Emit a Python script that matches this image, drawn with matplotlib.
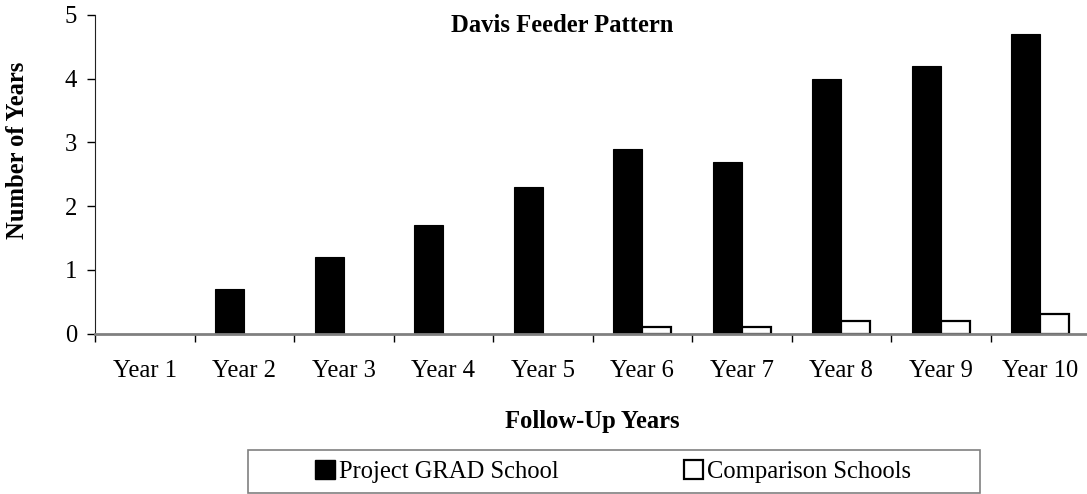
import matplotlib
matplotlib.use("Agg")
import matplotlib.pyplot as plt
import numpy as np
from matplotlib.patches import Rectangle, Patch

categories = ["Year 1", "Year 2", "Year 3", "Year 4", "Year 5",
              "Year 6", "Year 7", "Year 8", "Year 9", "Year 10"]
grad_values = [0.0, 0.7, 1.2, 1.7, 2.3, 2.9, 2.7, 4.0, 4.2, 4.7]
comparison_values = [0.0, 0.0, 0.0, 0.0, 0.0, 0.1, 0.1, 0.2, 0.2, 0.3]
series_names = ["Project GRAD School", "Comparison Schools"]
title = "Davis Feeder Pattern"
xlabel = "Follow-Up Years"
ylabel = "Number of Years"

plt.rcParams['font.family'] = ['Liberation Serif', 'DejaVu Serif']
FS = 17.7

W, H = 1087, 494
fig = plt.figure(figsize=(W / 100, H / 100), dpi=100)
ax = fig.add_axes([95 / W, (H - 333.5) / H, 995 / W, 318.5 / H])

x = np.arange(len(categories))
bw = 0.29
lw_grad = [0.8 if v > 0 else 0 for v in grad_values]
lw_comp = [1.6 if v > 0 else 0 for v in comparison_values]
ax.bar(x - bw / 2, grad_values, bw, color="black", edgecolor="black", linewidth=lw_grad, zorder=2)
ax.bar(x + bw / 2, comparison_values, bw, color="white", edgecolor="black", linewidth=lw_comp, zorder=2)

ax.set_xlim(-0.5, len(categories) - 0.5)
ax.set_ylim(0, 5)
ax.set_yticks(range(0, 6))
ax.tick_params(axis="y", direction="out", length=5.8, width=1, labelsize=FS, pad=7, color="black")
ax.set_xticks(x)
ax.set_xticklabels(categories)
ax.tick_params(axis="x", which="major", length=0, labelsize=FS, pad=19)
ax.set_xticks(np.arange(-0.5, len(categories), 1.0), minor=True)
ax.tick_params(axis="x", which="minor", direction="out", length=5.8, width=1, color="black")

for s in ["top", "right"]:
    ax.spines[s].set_visible(False)
ax.spines["left"].set_color("#222222")
ax.spines["bottom"].set_color("#808080")
ax.spines["bottom"].set_linewidth(2.0)
ax.spines["bottom"].set_zorder(3)

fig.text(562 / W, 1 - 26 / H, title, ha="center", va="center", fontsize=FS, fontweight="bold")
fig.text(592 / W, 1 - 421 / H, xlabel, ha="center", va="center", fontsize=FS, fontweight="bold")
fig.text(18 / W, 1 - 150 / H, ylabel, ha="center", va="center", rotation=90, fontsize=FS, fontweight="bold")

# legend frame
fig.add_artist(Rectangle((248 / W, 1 - 493 / H), 732 / W, 43 / H, transform=fig.transFigure,
                         facecolor="white", edgecolor="#808080", linewidth=1.2))
handles = [Patch(facecolor="black", edgecolor="black"),
           Patch(facecolor="white", edgecolor="black", linewidth=1.6)]
fig.legend(handles, series_names, loc="center", bbox_to_anchor=(613 / W, 1 - 471.5 / H),
           ncol=2, frameon=False, fontsize=FS, handlelength=0.8, handleheight=0.8,
           handletextpad=0.15, columnspacing=5.1, borderpad=0)

fig.savefig("out.png", dpi=100)
